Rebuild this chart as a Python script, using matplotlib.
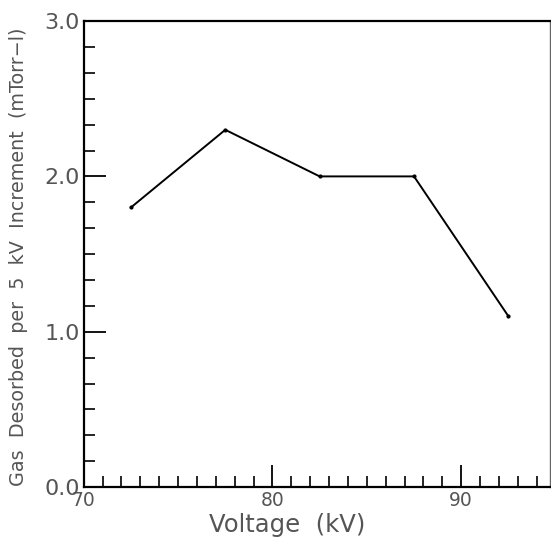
import matplotlib
matplotlib.use("Agg")
import matplotlib.pyplot as plt
from matplotlib.ticker import MultipleLocator

# values
voltage = [72.5, 77.5, 82.5, 87.5, 92.5]
gas_desorbed = [1.8, 2.3, 2.0, 2.0, 1.1]
y_ticks = [0.0, 1.0, 2.0, 3.0]
y_tick_labels = ["0.0", "1.0", "2.0", "3.0"]
x_ticks = [70, 80, 90]
x_tick_labels = ["70", "80", "90"]

plt.rcParams['font.family'] = ['DejaVu Sans']

fig = plt.figure(figsize=(5.51, 5.40), dpi=100)
ax = fig.add_axes([0.152, 0.098, 0.846, 0.863])

ax.plot(voltage, gas_desorbed, color='black', linewidth=1.4,
        marker='o', markersize=2)

ax.set_xlim(70, 94.7)
ax.set_ylim(0, 3.0)

ax.set_xticks(x_ticks)
ax.set_xticklabels(x_tick_labels)
ax.set_yticks(y_ticks)
ax.set_yticklabels(y_tick_labels)
ax.xaxis.set_minor_locator(MultipleLocator(1))
ax.yaxis.set_minor_locator(MultipleLocator(1 / 6))

ax.tick_params(which='major', direction='in', length=16, width=1.3,
               top=False, right=False, labelcolor='#555555')
ax.tick_params(which='minor', direction='in', length=8, width=1.2,
               top=False, right=False)
ax.tick_params(axis='x', which='major', pad=3, labelsize=13.5)
ax.tick_params(axis='y', which='major', pad=3, labelsize=16)

for side in ['left', 'bottom', 'top']:
    ax.spines[side].set_linewidth(1.6)
ax.spines['right'].set_linewidth(1.0)
ax.spines['right'].set_color('#666666')

ax.set_xlabel("Voltage  (kV)", fontsize=17.5, color='#555555')
ax.xaxis.set_label_coords(0.436, -0.056)
ax.set_ylabel("Gas  Desorbed  per  5  kV  Increment  (mTorr\u2212l)",
              fontsize=13.8, color='#555555')
ax.yaxis.set_label_coords(-0.12, 0.494)

fig.savefig("out.png", dpi=100)
